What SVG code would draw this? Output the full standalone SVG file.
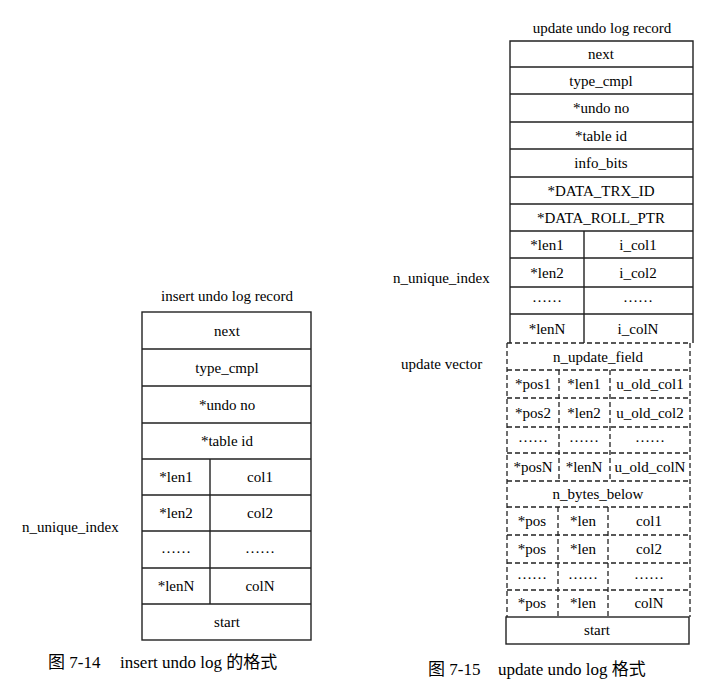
<svg xmlns="http://www.w3.org/2000/svg" width="708" height="697" viewBox="0 0 708 697">
<style>
.t{font-family:"Liberation Serif","Noto Sans CJK SC",serif;font-size:15px;fill:#000;text-anchor:middle}
.l{font-family:"Liberation Serif","Noto Sans CJK SC",serif;font-size:15px;fill:#000}
.c{font-family:"Liberation Serif","Noto Sans CJK SC",serif;font-size:17px;fill:#000}
.s{fill:none;stroke:#222;stroke-width:1.4}
.d{fill:none;stroke:#222;stroke-width:1.3;stroke-dasharray:5 3}
</style>
<rect width="708" height="697" fill="#fff"/>

<g id="insert-record">
<text class="t" x="227" y="301">insert undo log record</text>
<rect class="s" x="142" y="312" width="169" height="328"/>
<path class="s" d="M142 349H311M142 386H311M142 423H311M142 459H311M142 495H311M142 531H311M142 568H311M142 604H311M210 459V604"/>
<text class="t" x="227" y="336">next</text>
<text class="t" x="227" y="373">type_cmpl</text>
<text class="t" x="227" y="410">*undo no</text>
<text class="t" x="227" y="446">*table id</text>
<text class="t" x="176" y="482">*len1</text>
<text class="t" x="260" y="482">col1</text>
<text class="t" x="176" y="518">*len2</text>
<text class="t" x="260" y="518">col2</text>
<text class="t" x="176" y="553">……</text>
<text class="t" x="260" y="553">……</text>
<text class="t" x="176" y="591">*lenN</text>
<text class="t" x="260" y="591">colN</text>
<text class="t" x="227" y="627">start</text>
</g>

<g id="insert-labels">
<text class="l" x="22" y="532">n_unique_index</text>
</g>

<g id="update-record">
<text class="t" x="602" y="33">update undo log record</text>
<path class="s" d="M510 343V41H693V343"/>
<path class="s" d="M510 67H693M510 94H693M510 122H693M510 149H693M510 177H693M510 204H693M510 231H693M510 258H693M510 287H693M510 314H693M584 231V343"/>
<text class="t" x="601" y="59">next</text>
<text class="t" x="601" y="86">type_cmpl</text>
<text class="t" x="601" y="113">*undo no</text>
<text class="t" x="601" y="141">*table id</text>
<text class="t" x="601" y="168">info_bits</text>
<text class="t" x="601" y="196">*DATA_TRX_ID</text>
<text class="t" x="601" y="223">*DATA_ROLL_PTR</text>
<text class="t" x="547" y="250">*len1</text>
<text class="t" x="638" y="250">i_col1</text>
<text class="t" x="547" y="278">*len2</text>
<text class="t" x="638" y="278">i_col2</text>
<text class="t" x="547" y="302">……</text>
<text class="t" x="638" y="302">……</text>
<text class="t" x="547" y="334">*lenN</text>
<text class="t" x="638" y="334">i_colN</text>
</g>

<g id="update-vector">
<path class="d" d="M507 343H690M507 370H690M507 398H690M507 427H690M507 453H690M507 481H690M507 507H690M507 535H690M507 563H690M507 590H690"/>
<path class="d" d="M507 343V617M690 343V617M559 370V481M610 370V481M558 507V617M608 507V617"/>
<text class="t" x="598" y="362">n_update_field</text>
<text class="t" x="533" y="389">*pos1</text>
<text class="t" x="584" y="389">*len1</text>
<text class="t" x="650" y="389">u_old_col1</text>
<text class="t" x="533" y="418">*pos2</text>
<text class="t" x="584" y="418">*len2</text>
<text class="t" x="650" y="418">u_old_col2</text>
<text class="t" x="533" y="442">……</text>
<text class="t" x="584" y="442">……</text>
<text class="t" x="650" y="442">……</text>
<text class="t" x="533" y="472">*posN</text>
<text class="t" x="584" y="472">*lenN</text>
<text class="t" x="650" y="472">u_old_colN</text>
<text class="t" x="598" y="499">n_bytes_below</text>
<text class="t" x="532" y="526">*pos</text>
<text class="t" x="583" y="526">*len</text>
<text class="t" x="649" y="526">col1</text>
<text class="t" x="532" y="554">*pos</text>
<text class="t" x="583" y="554">*len</text>
<text class="t" x="649" y="554">col2</text>
<text class="t" x="532" y="579">……</text>
<text class="t" x="583" y="579">……</text>
<text class="t" x="649" y="579">……</text>
<text class="t" x="532" y="608">*pos</text>
<text class="t" x="583" y="608">*len</text>
<text class="t" x="649" y="608">colN</text>
</g>

<g id="update-start">
<rect class="s" x="506" y="617" width="183" height="27"/>
<text class="t" x="597" y="635">start</text>
</g>

<g id="update-labels">
<text class="l" x="393" y="283">n_unique_index</text>
<text class="l" x="401" y="369">update vector</text>
</g>

<g id="captions">
<text class="c" x="48" y="668">图 7-14</text>
<text class="c" x="120" y="668">insert undo log 的格式</text>
<text class="c" x="428" y="675">图 7-15</text>
<text class="c" x="498" y="675">update undo log 格式</text>
</g>
</svg>
